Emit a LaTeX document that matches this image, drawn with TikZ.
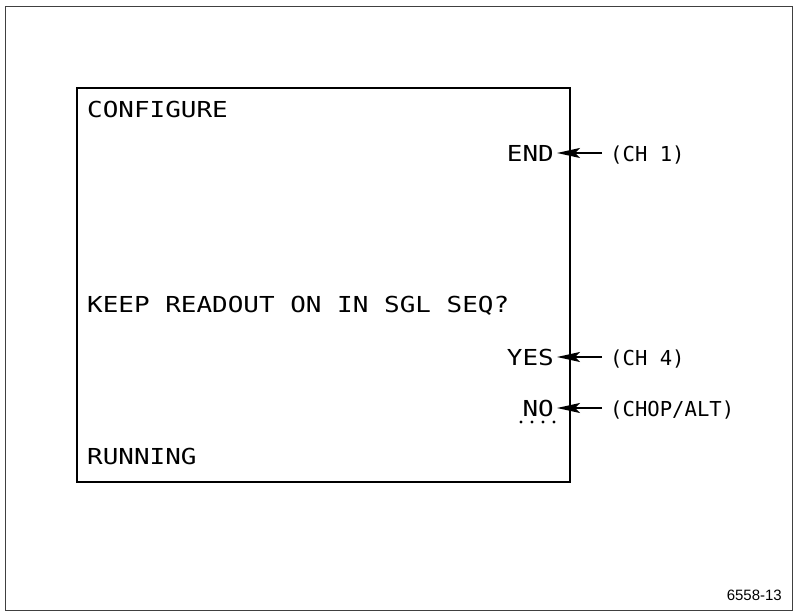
\documentclass[tikz,border=0pt]{standalone}
\usepackage{fontspec}
\setsansfont{Liberation Sans}
\newfontfamily\crtfont[FakeStretch=1.18]{DejaVu Sans Mono}
\newfontfamily\chanfont{DejaVu Sans Mono}
\usetikzlibrary{arrows.meta}

\begin{document}
\begin{tikzpicture}[x=1pt, y=-1pt, every node/.style={inner sep=0pt},
  readout/.style={font=\crtfont\fontsize{22}{22}\selectfont},
  chan/.style={font=\chanfont\fontsize{20.6}{20.6}\selectfont},
  ptr/.style={-{Stealth[length=23pt,width=10pt,inset=5pt]}, line width=1.6pt,
    shorten <=8pt, shorten >=3pt}]
  \useasboundingbox (0,0) rectangle (795,611);
  \draw[black!75, line width=0.9pt] (5,6) rectangle (792,610);
  \draw[line width=1.8pt] (77,88) rectangle (570,482);

  \node[readout, anchor=base west] (configure) at (87,117) {CONFIGURE};
  \node[readout, anchor=base west] (keep) at (87,312) {KEEP READOUT ON IN SGL SEQ?};
  \node[readout, anchor=base west] (running) at (87,464) {RUNNING};

  \foreach \nm/\txt/\lab/\y in {
    end/END/{(CH 1)}/161,
    yes/YES/{(CH 4)}/365,
    no/NO/{(CHOP/ALT)}/416} {
    \node[readout, anchor=base east] (\nm) at (554,\y) {\txt};
    \node[chan, anchor=base west] (l\nm) at (610,\y) {\lab};
    \draw[ptr] (l\nm.west |- \nm.east) -- (\nm.east);
  }

  % cursor under NO
  \foreach \x in {521,532,543,554}
    \fill (\x,422) circle (1.7pt);

  \node[font=\sffamily\fontsize{15}{15}\selectfont, anchor=base east] (fignum) at (782,600) {6558-13};
\end{tikzpicture}
\end{document}
